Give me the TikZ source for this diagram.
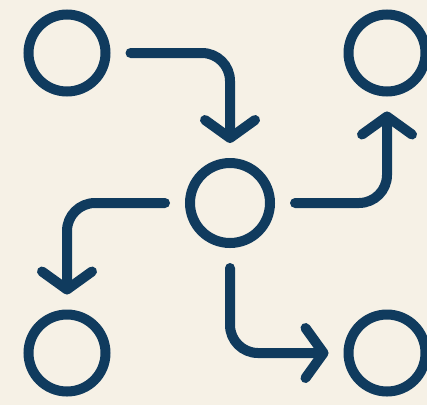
\documentclass[tikz,border=0pt]{standalone}
\usepackage{tikz}
\usetikzlibrary{arrows.meta}
\definecolor{cream}{RGB}{246 241 230}
\definecolor{navy}{RGB}{ 16  59  94}
\tikzstyle{station} = [circle, draw=navy, line width=10pt, inner sep=0pt, minimum size=77pt]
\tikzstyle{hub} = [station, minimum size=80pt]
\tikzstyle{arrow} = [draw=navy, line width=10pt, line cap=round, rounded corners=28pt, shorten <=20pt, shorten >=15pt, -{Straight Barb[length=18pt, width=50pt, line cap=round, line join=round]}]

\begin{document}
\begin{tikzpicture}[x=1pt, y=-1pt]
        \fill [cream] (0,0) rectangle (427,405);
        \useasboundingbox (0,0) rectangle (427,405);
        \node (hub) [hub] at (230,203) {};
        \node (tl) [station] at (67,53) {};
        \node (tr) [station] at (387,53) {};
        \node (bl) [station] at (67,353) {};
        \node (br) [station] at (387,353) {};
        \draw [arrow] (tl.east) -| (hub.north);
        \draw [arrow] (hub.east) -| (tr.south);
        \draw [arrow] (hub.west) -| (bl.north);
        \draw [arrow] (hub.south) |- (br.west);
    \end{tikzpicture}
\end{document}
